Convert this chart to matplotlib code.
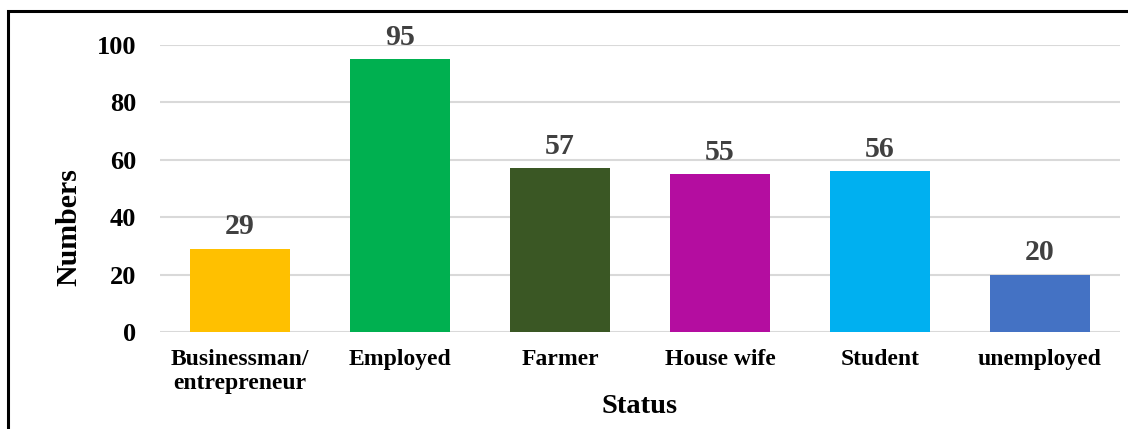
import matplotlib.pyplot as plt
from matplotlib.patches import Rectangle

plt.rcParams['font.family'] = ['Liberation Serif', 'DejaVu Serif']
plt.rcParams['font.weight'] = 'bold'

status = ['Businessman/\nentrepreneur', 'Employed', 'Farmer', 'House wife', 'Student', 'unemployed']
numbers = [29, 95, 57, 55, 56, 20]
colors = ['#FFC000', '#00B050', '#3A5724', '#B40DA0', '#00B0F0', '#4472C4']

fig = plt.figure(figsize=(11.28, 4.29), dpi=100)
ax = fig.add_axes([160 / 1128, 1 - 332 / 429, 960 / 1128, 287 / 429])

x = range(len(status))
bars = ax.bar(x, numbers, width=0.625, color=colors, zorder=3)
for b, v in zip(bars, numbers):
    ax.text(b.get_x() + b.get_width() / 2, v + 3, str(v), ha='center', va='bottom',
            fontsize=21.5, fontweight='bold', color='#404040')

ax.set_xlim(-0.5, len(status) - 0.5)
ax.set_ylim(0, 100)
ax.set_yticks(range(0, 101, 20))
ax.yaxis.grid(True, color='#D9D9D9', linewidth=1.5, zorder=0)
ax.tick_params(axis='y', length=0, labelsize=19, pad=17)
ax.tick_params(axis='x', length=0, labelsize=17, pad=12)
ax.set_xticks(list(x))
ax.set_xticklabels(status, va='top', linespacing=1.2)
for s in ax.spines.values():
    s.set_visible(False)

ax.set_ylabel('Numbers', fontsize=21.5, fontweight='bold', va='center')
ax.yaxis.set_label_coords(-(160 - 69) / 960, (332 - 227) / 287)
ax.set_xlabel('Status', fontsize=20.5, fontweight='bold', labelpad=0)

# outer frame
fig.patches.append(Rectangle((8 / 1128, -0.1), 1.2, 1.1 - 11 / 429, transform=fig.transFigure,
                             fill=False, edgecolor='black', linewidth=2.2))

fig.savefig('out.png', dpi=100)
